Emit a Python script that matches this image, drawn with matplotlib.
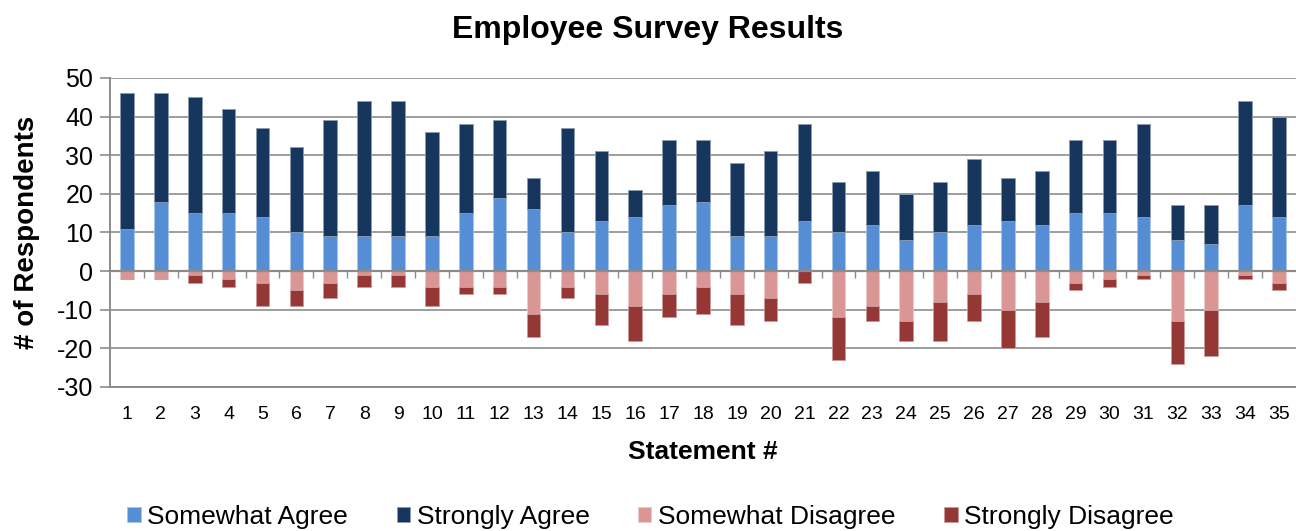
import numpy as np
import matplotlib
matplotlib.use("Agg")
import matplotlib.pyplot as plt

plt.rcParams['font.family'] = ['Liberation Sans', 'DejaVu Sans']
plt.rcParams['axes.unicode_minus'] = False

# Survey data
statements = [str(i) for i in range(1, 36)]
somewhat_agree = [11, 18, 15, 15, 14, 10, 9, 9, 9, 9, 15, 19, 16, 10, 13, 14, 17, 18,
                  9, 9, 13, 10, 12, 8, 10, 12, 13, 12, 15, 15, 14, 8, 7, 17, 14]
strongly_agree = [35, 28, 30, 27, 23, 22, 30, 35, 35, 27, 23, 20, 8, 27, 18, 7, 17, 16,
                  19, 22, 25, 13, 14, 12, 13, 17, 11, 14, 19, 19, 24, 9, 10, 27, 26]
somewhat_disagree = [-2, -2, -1, -2, -3, -5, -3, -1, -1, -4, -4, -4, -11, -4, -6, -9, -6, -4,
                     -6, -7, 0, -12, -9, -13, -8, -6, -10, -8, -3, -2, -1, -13, -10, -1, -3]
strongly_disagree = [0, 0, -2, -2, -6, -4, -4, -3, -3, -5, -2, -2, -6, -3, -8, -9, -6, -7,
                     -8, -6, -3, -11, -4, -5, -10, -7, -10, -9, -2, -2, -1, -11, -12, -1, -2]

c_sa = '#558ED5'
c_stra = '#17365D'
c_sd = '#D99694'
c_strd = '#953735'

x = np.arange(len(statements))
w = 0.4

fig = plt.figure(figsize=(12.96, 5.31), dpi=100)
ax = fig.add_axes([0.0849, 0.2712, 0.915, 0.582])

ax.bar(x, somewhat_agree, w, color=c_sa, edgecolor='#A9C4EA', linewidth=0.6, label='Somewhat Agree', zorder=3)
ax.bar(x, strongly_agree, w, bottom=somewhat_agree, color=c_stra, edgecolor='#8A9BB0',
       linewidth=0.6, label='Strongly Agree', zorder=3)
ax.bar(x, somewhat_disagree, w, color=c_sd, edgecolor='#ECCACA', linewidth=0.6,
       label='Somewhat Disagree', zorder=3)
ax.bar(x, strongly_disagree, w, bottom=somewhat_disagree, color=c_strd, edgecolor='#CA9B9A',
       linewidth=0.6, label='Strongly Disagree', zorder=3)

ax.set_xlim(-0.5, len(statements) - 0.5)
ax.set_ylim(-30, 50)
ax.set_yticks(range(-30, 51, 10))
ax.yaxis.grid(True, color='#8C8C8C', linewidth=1.2, zorder=0)
ax.set_axisbelow(True)

ax.set_xticks(x)
ax.set_xticklabels(statements, fontsize=14)
ax.tick_params(axis='x', length=0, pad=14)
ax.tick_params(axis='y', labelsize=18, length=7, width=1.2, color='#8C8C8C', pad=5)

for side in ['top', 'right']:
    ax.spines[side].set_visible(False)
for side in ['left', 'bottom']:
    ax.spines[side].set_color('#8C8C8C')
    ax.spines[side].set_linewidth(1.4)

# zero line with category tick marks
ax.axhline(0, color='#8C8C8C', linewidth=1.6, zorder=4)
sec = ax.secondary_xaxis(30 / 80)
sec.set_xticks(x[:-1] + 0.5)
sec.set_xticklabels([])
sec.tick_params(length=5, width=1, color='#8C8C8C', direction='out')
sec.spines['bottom'].set_visible(False)
sec.spines['top'].set_visible(False)

ax.set_xlabel('Statement #', fontsize=19, fontweight='bold', labelpad=12)
ax.set_ylabel('# of Respondents', fontsize=20, fontweight='bold', labelpad=12)
fig.suptitle('Employee Survey Results', fontsize=23, fontweight='bold', y=0.972)

fig.legend(loc='center', bbox_to_anchor=(0.502, 0.027), ncol=4, fontsize=19, frameon=False,
           handlelength=0.5, handleheight=0.5, handletextpad=0.25, columnspacing=1.85)

fig.savefig('out.png', dpi=100)
